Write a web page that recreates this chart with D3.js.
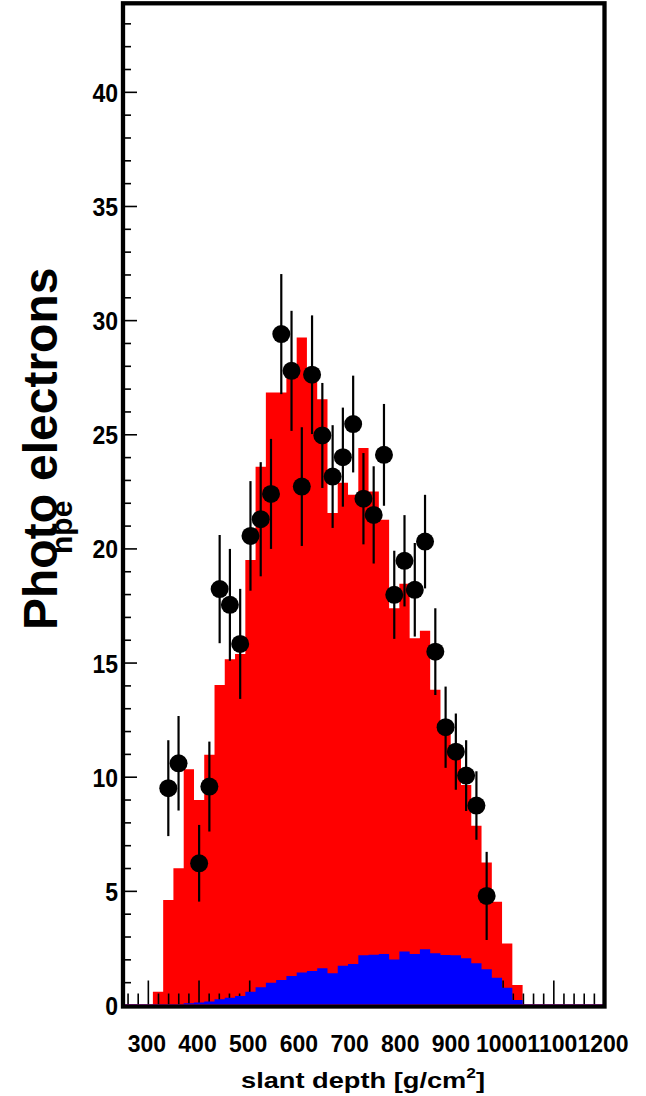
<!DOCTYPE html>
<html>
<head>
<meta charset="utf-8">
<script src="https://cdn.jsdelivr.net/npm/d3@7"></script>
<style>
  body { margin: 0; background: #fff; }
  svg { display: block; }
  text { font-family: "Liberation Sans", Arial, Helvetica, sans-serif; font-weight: bold; fill: #000; }
</style>
</head>
<body>
<svg id="chart" width="646" height="1096"></svg>
<script>
// Slant-depth bin centres [g/cm^2] shared by all histograms and the measured points
const binCenters = [319.1, 339.4, 359.6, 379.9, 400.2, 420.4, 440.7, 460.9, 481.2, 501.5,
                    521.7, 542.0, 562.3, 582.5, 602.8, 623.0, 643.3, 663.6, 683.8, 704.1,
                    724.4, 744.6, 764.9, 785.2, 805.4, 825.7, 845.9, 866.2, 886.5, 906.7,
                    927.0, 947.3, 967.5, 987.8, 1008.0, 1028.3];
const binWidth = 20.26;

// Total expected signal (red histogram), photo electrons per bin
const totalSignal = [0.6, 4.62, 6.01, 10.35, 9.0, 10.98, 14.04, 15.17, 15.4, 19.52,
                     23.6, 26.85, 26.85, 28.0, 29.26, 27.6, 26.56, 21.57, 22.9, 22.37,
                     24.42, 22.52, 21.28, 17.4, 18.47, 16.09, 16.42, 13.83, 12.4, 11.05,
                     9.66, 7.87, 6.26, 4.55, 2.72, 0.9];

// Component shown in blue, photo electrons per bin
const blueSignal = [0, 0, 0, 0.1, 0.13, 0.17, 0.27, 0.34, 0.42, 0.6,
                    0.8, 1.0, 1.12, 1.29, 1.45, 1.51, 1.63, 1.41, 1.74, 1.82,
                    2.2, 2.22, 2.26, 2.02, 2.36, 2.26, 2.46, 2.29, 2.21, 2.2,
                    2.07, 1.85, 1.59, 1.22, 0.78, 0.24];

// Measured photo electrons with uncertainties
const dataDepth = [339.4, 359.6, 400.2, 420.4, 440.7, 460.9, 481.2, 501.5, 521.7, 542.0,
                   562.3, 582.5, 602.8, 623.0, 643.3, 663.6, 683.8, 704.1, 724.4, 744.6,
                   764.9, 785.2, 805.4, 825.7, 845.9, 866.2, 886.5, 906.7, 927.0, 947.3, 967.5];
const dataNpe   = [9.52, 10.61, 6.23, 9.59, 18.24, 17.55, 15.84, 20.57, 21.3, 22.41,
                   29.41, 27.8, 22.73, 27.63, 24.97, 23.17, 24.02, 25.47, 22.2, 21.49,
                   24.12, 17.99, 19.48, 18.21, 20.32, 15.5, 12.19, 11.12, 10.07, 8.76, 4.8];
const dataErr   = [2.1, 2.07, 1.68, 1.97, 2.37, 2.45, 2.41, 2.4, 2.5, 2.41,
                   2.63, 2.63, 2.6, 2.6, 2.3, 2.25, 2.17, 2.12, 2.0, 2.13,
                   2.23, 1.93, 2.0, 2.05, 2.05, 1.9, 1.78, 1.67, 1.55, 1.5, 1.93];

// Axis settings
const xDomain = [250, 1200];
const yDomain = [0, 43.9];
const xLabels = [300, 400, 500, 600, 700, 800, 900, 1000, 1100, 1200];
const yLabels = [0, 5, 10, 15, 20, 25, 30, 35, 40];

const svg = d3.select("#chart");
const frame = { left: 123, right: 604.5, top: 3.3, bottom: 1005.5 };

const x = d3.scaleLinear().domain(xDomain).range([frame.left, frame.right]);
const y = d3.scaleLinear().domain(yDomain).range([frame.bottom, frame.top]);

svg.append("rect").attr("width", 646).attr("height", 1096).attr("fill", "#fff");

// step outline of a histogram
function stepPoints(values) {
  const pts = binCenters.map((c, i) => ({ x: c - binWidth / 2, v: values[i] }));
  pts.push({ x: binCenters[binCenters.length - 1] + binWidth / 2, v: values[values.length - 1] });
  return pts;
}
const area = d3.area()
  .curve(d3.curveStepAfter)
  .x(d => x(d.x))
  .y0(y(0))
  .y1(d => y(d.v));

svg.append("path").datum(stepPoints(totalSignal)).attr("d", area).attr("fill", "#ff0000");

// x ticks: drawn up from the bottom axis
const xMinor = d3.range(260, 1201, 20);
svg.append("g").selectAll("line").data(xMinor).join("line")
  .attr("x1", d => x(d)).attr("x2", d => x(d))
  .attr("y1", frame.bottom)
  .attr("y2", d => frame.bottom - (d % 100 === 0 ? 25 : 12))
  .attr("stroke", "#000").attr("stroke-width", 1.6);

// y ticks: drawn right from the left axis
const yMinor = d3.range(0, 44, 1);
svg.append("g").selectAll("line").data(yMinor).join("line")
  .attr("x1", frame.left).attr("x2", d => frame.left + (d % 5 === 0 ? 14 : 8))
  .attr("y1", d => y(d)).attr("y2", d => y(d))
  .attr("stroke", "#000").attr("stroke-width", 1.6);

svg.append("path").datum(stepPoints(blueSignal)).attr("d", area).attr("fill", "#0000ff");

// baseline
svg.append("line")
  .attr("x1", frame.left).attr("x2", frame.right)
  .attr("y1", frame.bottom).attr("y2", frame.bottom)
  .attr("stroke", "#ff00ff").attr("stroke-width", 2.5);

// measured points with error bars
const pts = dataDepth.map((d, i) => ({ d, v: dataNpe[i], e: dataErr[i] }));
svg.append("g").selectAll("line").data(pts).join("line")
  .attr("x1", p => x(p.d)).attr("x2", p => x(p.d))
  .attr("y1", p => y(p.v - p.e)).attr("y2", p => y(p.v + p.e))
  .attr("stroke", "#000").attr("stroke-width", 2.2);
svg.append("g").selectAll("circle").data(pts).join("circle")
  .attr("cx", p => x(p.d)).attr("cy", p => y(p.v)).attr("r", 9)
  .attr("fill", "#000");

// frame
svg.append("rect")
  .attr("x", frame.left).attr("y", frame.top)
  .attr("width", frame.right - frame.left).attr("height", frame.bottom + 1 - frame.top)
  .attr("fill", "none").attr("stroke", "#000").attr("stroke-width", 4.3);

// y tick labels (tall, narrow glyphs)
svg.append("g").selectAll("text").data(yLabels).join("text")
  .attr("transform", d => `translate(118,${y(d)}) scale(1,1.15)`)
  .attr("dy", "0.36em")
  .attr("text-anchor", "end").attr("font-size", 23)
  .text(d => d);

// x tick labels
svg.append("g").selectAll("text").data(xLabels).join("text")
  .attr("x", d => x(d) - 1.5).attr("y", 1052)
  .attr("text-anchor", "middle").attr("font-size", 23)
  .text(d => d);

// x title
const xt = svg.append("text")
  .attr("x", 241).attr("y", 1088)
  .attr("font-size", 22)
  .attr("textLength", 244).attr("lengthAdjust", "spacingAndGlyphs");
xt.append("tspan").text("slant depth [g/cm");
xt.append("tspan").attr("font-size", 14).attr("dy", -10).text("2");
xt.append("tspan").attr("dy", 10).text("]");

// y title
const yt = svg.append("text")
  .attr("transform", "translate(57,630) rotate(-90)")
  .attr("font-size", 48);
yt.append("tspan").attr("x", 0).text("Photo");
yt.append("tspan").attr("x", 76).attr("dy", 15).attr("font-size", 30).text("npe");
yt.append("tspan").attr("x", 149).attr("dy", -15).text("electrons");
</script>
</body>
</html>
